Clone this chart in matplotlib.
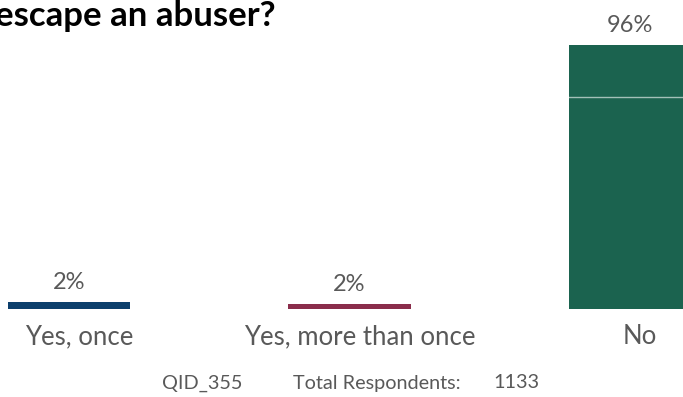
import matplotlib
matplotlib.use("Agg")
import matplotlib.pyplot as plt
from matplotlib.transforms import ScaledTranslation

categories = ["Yes, once", "Yes, more than once", "No"]
values = [2.4, 1.7, 95.9]
labels = ["2%", "2%", "96%"]
colors = ["#0c3f6c", "#8a2d4b", "#1b634f"]
title_text = "escape an abuser?"
footer = ["QID_355", "Total Respondents:", "1133"]

plt.rcParams['font.family'] = ['Lato', 'DejaVu Sans']
fig = plt.figure(figsize=(6.83, 3.97), dpi=100)
ax = fig.add_axes([0, 88/397, 1, 1 - 88/397])
x = list(range(len(categories)))
ax.bar(x, values, width=0.435, color=colors, zorder=2)
ax.axhline(77, color="white", alpha=0.6, lw=1, zorder=3)
for xi, v, lab in zip(x, values, labels):
    ax.annotate(lab, (xi, v), xytext=(0, 9), textcoords="offset pixels",
                ha="center", va="bottom", fontsize=17, color="#595959")
ax.set_xlim(-0.246, 2.189)
ax.set_ylim(0, 112.4)
ax.set_xticks(x)
ax.set_xticklabels(categories, fontsize=18.5, color="#595959")
ax.tick_params(axis="x", length=0, pad=11)
shift = ScaledTranslation(10/100, 0, fig.dpi_scale_trans)
for t in ax.get_xticklabels():
    t.set_transform(t.get_transform() + shift)
ax.set_yticks([])
for s in ax.spines.values():
    s.set_visible(False)

fig.text(-0.008, 1.0, title_text, fontsize=25, fontweight="bold",
         color="black", ha="left", va="top")
fy = 14/397
fig.text(162/683, fy, footer[0], fontsize=14.3, color="#595959", ha="left", va="center")
fig.text(293/683, fy, footer[1], fontsize=14.3, color="#595959", ha="left", va="center")
fig.text(493/683, fy, footer[2], fontsize=14.3, color="#595959", ha="left", va="center")
fig.savefig("out.png", dpi=100)
